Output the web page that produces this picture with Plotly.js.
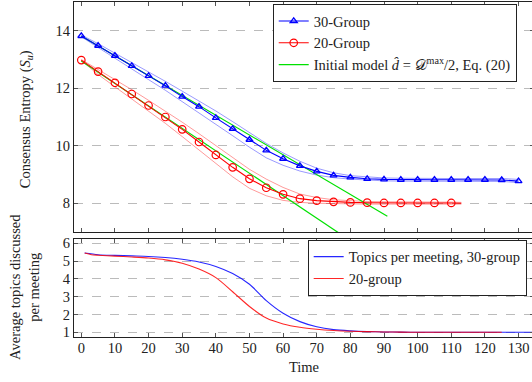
<!DOCTYPE html>
<html><head><meta charset="utf-8">
<script src="https://cdn.plot.ly/plotly-3.0.1.min.js"></script>
<style>html,body{margin:0;padding:0;overflow:hidden;background:#fff}</style>
</head><body><div id="chart"></div>
<script>
// ---- Data ----
const time30 = [0,5,10,15,20,25,30,35,40,45,50,55,60,65,70,75,80,85,90,95,100,105,110,115,120,125,130];
const mean30 = [13.82,13.48,13.13,12.78,12.43,12.09,11.71,11.36,10.97,10.59,10.21,9.84,9.55,9.30,9.11,8.97,8.90,8.85,8.83,8.82,8.82,8.82,8.82,8.82,8.82,8.81,8.77];
const upper30 = [13.85,13.55,13.22,12.90,12.57,12.24,11.90,11.57,11.21,10.84,10.46,10.08,9.75,9.46,9.22,9.06,8.96,8.91,8.88,8.87,8.86,8.86,8.86,8.86,8.86,8.86,8.83];
const lower30 = [13.79,13.41,13.04,12.67,12.30,11.93,11.54,11.16,10.75,10.35,9.95,9.58,9.32,9.12,8.98,8.89,8.84,8.80,8.78,8.77,8.77,8.77,8.77,8.77,8.77,8.76,8.72];

const time20 = [0,5,10,15,20,25,30,35,40,45,50,55,60,65,70,75,80,85,90,95,100,105,110];
const mean20 = [12.98,12.58,12.19,11.80,11.40,11.00,10.57,10.13,9.68,9.25,8.85,8.54,8.31,8.16,8.09,8.05,8.03,8.02,8.01,8.01,8.01,8.01,8.01];
const tail20T = [110,113];
const tail20 = [8.01,8.00];
const bandT20 = [0,5,10,15,20,25,30,35,40,45,50,55,60,65,70,75,80,85,90,95,100,105,110,113];
const upper20 = [13.00,12.66,12.31,11.95,11.58,11.21,10.82,10.42,10.00,9.58,9.18,8.84,8.55,8.32,8.20,8.12,8.08,8.06,8.05,8.04,8.04,8.04,8.04,8.03];
const lower20 = [12.96,12.48,12.05,11.63,11.20,10.78,10.32,9.85,9.37,8.92,8.52,8.26,8.10,8.03,8.00,7.98,7.98,7.97,7.97,7.97,7.97,7.97,7.97,7.97];

const modelT30 = [0,91];
const model30 = [13.82,7.55];
const modelT20 = [0,80];
const model20 = [12.95,6.70];

const topicsT30 = [1,5,10,15,20,25,30,35,40,45,50,55,60,65,70,75,80,85,90,95,100,110,120,130,136];
const topics30 = [5.45,5.36,5.32,5.29,5.26,5.20,5.10,4.95,4.70,4.30,3.70,2.78,2.07,1.60,1.31,1.15,1.08,1.04,1.02,1.01,1.00,1.00,1.00,1.00,1.00];
const topicsT20 = [1,3,5,10,15,20,25,30,35,40,45,50,55,60,65,70,75,80,85,90,95,100,110,125];
const topics20 = [5.45,5.36,5.33,5.28,5.23,5.17,5.07,4.88,4.55,4.07,3.28,2.45,1.80,1.47,1.28,1.17,1.10,1.06,1.04,1.02,1.01,1.00,1.00,1.00];

const names = ["30-Group","20-Group","Initial model <i>d\u0302</i> = \uD835\uDC9F<sup>max</sup>/2, Eq. (20)","Topics per meeting, 30-group","20-group"];

const BLUE = "rgb(0,0,255)", RED = "rgb(255,0,0)", GREEN = "rgb(0,225,0)";
const LBLUE = "rgba(0,0,255,0.4)", LRED = "rgba(255,0,0,0.4)";

const traces = [
  {x: time30, y: upper30, mode:"lines", line:{color:LBLUE,width:1}, showlegend:false, xaxis:"x", yaxis:"y"},
  {x: time30, y: lower30, mode:"lines", line:{color:LBLUE,width:1}, showlegend:false, xaxis:"x", yaxis:"y"},
  {x: bandT20, y: upper20, mode:"lines", line:{color:LRED,width:1}, showlegend:false, xaxis:"x", yaxis:"y"},
  {x: bandT20, y: lower20, mode:"lines", line:{color:LRED,width:1}, showlegend:false, xaxis:"x", yaxis:"y"},
  {x: tail20T, y: tail20, mode:"lines", line:{color:RED,width:1}, showlegend:false, xaxis:"x", yaxis:"y"},
  {x: modelT30, y: model30, mode:"lines", line:{color:GREEN,width:1.2}, showlegend:false, xaxis:"x", yaxis:"y"},
  {x: modelT20, y: model20, mode:"lines", line:{color:GREEN,width:1.2}, showlegend:false, xaxis:"x", yaxis:"y"},
  {x: time30, y: mean30, name:names[0], mode:"lines+markers", line:{color:BLUE,width:1.1},
   marker:{symbol:"triangle-up-open", size:6, color:BLUE, line:{width:1.4}}, xaxis:"x", yaxis:"y", legend:"legend"},
  {x: time20, y: mean20, name:names[1], mode:"lines+markers", line:{color:RED,width:1.1},
   marker:{symbol:"circle-open", size:7.5, color:RED, line:{width:1.2}}, xaxis:"x", yaxis:"y", legend:"legend"},
  {x: [null], y: [null], name:names[2], mode:"lines", line:{color:GREEN,width:1.2}, xaxis:"x", yaxis:"y", legend:"legend"},
  {x: topicsT30, y: topics30, name:names[3], mode:"lines", line:{color:BLUE,width:1.1, shape:"spline", smoothing:0.8}, opacity:0.85, xaxis:"x2", yaxis:"y2", legend:"legend2"},
  {x: topicsT20, y: topics20, name:names[4], mode:"lines", line:{color:RED,width:1.1, shape:"spline", smoothing:0.8}, opacity:0.85, xaxis:"x2", yaxis:"y2", legend:"legend2"}
];

const FONT = "Liberation Serif, Times New Roman, serif";
const axBase = {showline:true, linecolor:"#222", linewidth:1.2, mirror:"ticks", ticks:"inside", ticklen:4, tickcolor:"#555", tickwidth:1, zeroline:false};
const layout = {
  width:536, height:382,
  margin:{l:74, r:2, t:2, b:45},
  paper_bgcolor:"#fff", plot_bgcolor:"#fff",
  font:{family:FONT, size:14.5, color:"#222"},
  showlegend:true,
  xaxis: Object.assign({}, axBase, {range:[-2.17,134.6], dtick:10, tick0:0, showticklabels:false, showgrid:false, anchor:"y"}),
  yaxis: Object.assign({}, axBase, {domain:[0.3134,1], range:[7,15], dtick:2, tick0:0, showgrid:true, gridcolor:"#bbb", griddash:"dash", gridwidth:1, anchor:"x"}),
  xaxis2: Object.assign({}, axBase, {range:[-2.17,134.6], dtick:10, tick0:0, showgrid:false, anchor:"y2", ticklabelstandoff:-3,
     title:{text:"Time", standoff:7, font:{size:14.5, family:FONT, color:"#222"}}}),
  yaxis2: Object.assign({}, axBase, {domain:[0,0.2925], range:[0.736,6.24], dtick:1, tick0:0, showgrid:true, gridcolor:"#bbb", griddash:"dash", gridwidth:1, anchor:"x2"}),
  legend: {x:0.432, y:0.994, xanchor:"left", yanchor:"top", bgcolor:"#fff", bordercolor:"#222", borderwidth:1, font:{size:14.5}, tracegroupgap:0},
  legend2: {x:0.508, y:0.2904, xanchor:"left", yanchor:"top", bgcolor:"#fff", bordercolor:"#222", borderwidth:1, font:{size:14.5}},
  annotations:[
    {text:"Consensus Entropy (<i>S<sub>u</sub></i>)", xref:"paper", yref:"paper", x:-0.105, y:0.649, textangle:-90, showarrow:false, xanchor:"center", yanchor:"middle", font:{size:14.5, family:FONT}},
    {text:"Average topics discussed<br>per meeting", xref:"paper", yref:"paper", x:-0.109, y:0.149, textangle:-90, showarrow:false, xanchor:"center", yanchor:"middle", font:{size:14.5, family:FONT}}
  ]
};
Plotly.newPlot("chart", traces, layout, {displayModeBar:false, staticPlot:true});
</script></body></html>
